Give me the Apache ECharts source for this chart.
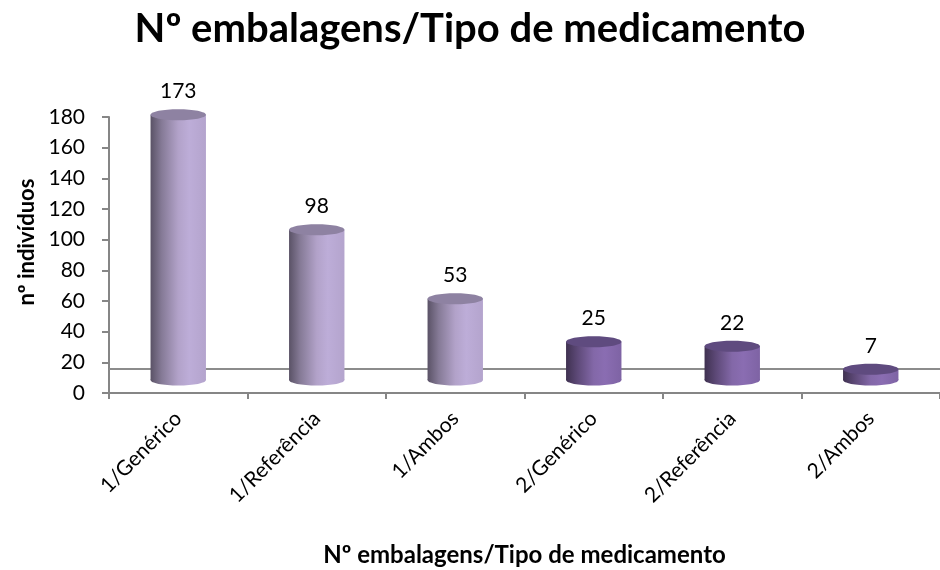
<!DOCTYPE html>
<html>
<head>
<meta charset="utf-8">
<script src="https://cdn.jsdelivr.net/npm/echarts@6/dist/echarts.min.js"></script>
<style>
  html, body { margin: 0; padding: 0; background: #fff; }
  #chart { width: 940px; height: 570px; }
</style>
</head>
<body>
<div id="chart"></div>
<script>
// Dados do gráfico
const categorias = ['1/Genérico', '1/Referência', '1/Ambos', '2/Genérico', '2/Referência', '2/Ambos'];
const valores = [173, 98, 53, 25, 22, 7];
const grupo = [1, 1, 1, 2, 2, 2];

const fonte = 'Lato, "Open Sans", sans-serif';

// Cores dos cilindros por grupo
const cores = {
  1: { corpo: ['#5a5266', '#857a96', '#b2a2c9', '#bdadd8', '#b4a4cd'], topo: '#8e82a2' },
  2: { corpo: ['#3f3150', '#5c4876', '#8368a8', '#8a6db2', '#7e63a4'], topo: '#5f4b7f' }
};

function gradiente(c) {
  return new echarts.graphic.LinearGradient(0, 0, 1, 0, [
    { offset: 0, color: c[0] },
    { offset: 0.2, color: c[1] },
    { offset: 0.5, color: c[2] },
    { offset: 0.7, color: c[3] },
    { offset: 1, color: c[4] }
  ]);
}

const elevacao = 13; // deslocamento da base (efeito 3D)
const piso = 24;     // linha de fundo do piso

function desenharCilindro(params, api) {
  const idx = api.value(0);
  const base = api.coord([idx, 0]);
  const topo = api.coord([idx, api.value(1)]);
  const largura = api.size([1, 0])[0] * 0.4;
  const rx = largura / 2;
  const ry = 5.5;
  const cx = base[0];
  const yb = base[1] - elevacao;
  const yt = topo[1] - elevacao;
  const c = cores[grupo[params.dataIndex]];
  const filhos = [];

  // linha do fundo do piso, atrás dos cilindros
  if (params.dataIndex === 0) {
    const cs = params.coordSys;
    filhos.push({
      type: 'line',
      shape: { x1: cs.x, y1: base[1] - piso, x2: cs.x + cs.width, y2: base[1] - piso },
      style: { stroke: '#8c8c8c', lineWidth: 2 }
    });
  }

  filhos.push({
    type: 'ellipse',
    shape: { cx: cx, cy: yb, rx: rx, ry: ry },
    style: { fill: gradiente(c.corpo) }
  });
  filhos.push({
    type: 'rect',
    shape: { x: cx - rx, y: yt, width: largura, height: yb - yt },
    style: { fill: gradiente(c.corpo) }
  });
  filhos.push({
    type: 'ellipse',
    shape: { cx: cx, cy: yt, rx: rx, ry: ry },
    style: { fill: c.topo }
  });
  filhos.push({
    type: 'text',
    style: {
      text: String(api.value(1)),
      x: cx,
      y: yt - ry - 7,
      align: 'center',
      verticalAlign: 'bottom',
      font: '21px ' + fonte,
      fill: '#000'
    }
  });

  return { type: 'group', children: filhos };
}

const chart = echarts.init(document.getElementById('chart'), null, { renderer: 'canvas' });

chart.setOption({
  animation: false,
  backgroundColor: '#fff',
  title: {
    text: 'Nº embalagens/Tipo de medicamento',
    left: 'center',
    top: 4,
    textStyle: { fontFamily: fonte, fontSize: 40, fontWeight: 'bold', color: '#000' }
  },
  grid: { left: 109, right: -10, top: 117, bottom: 177 },
  xAxis: {
    type: 'category',
    data: categorias,
    name: 'Nº embalagens/Tipo de medicamento',
    nameLocation: 'middle',
    nameGap: 150,
    nameTextStyle: { fontFamily: fonte, fontSize: 24, fontWeight: 'bold', color: '#000' },
    axisLine: { lineStyle: { color: '#868686', width: 2 } },
    axisTick: { show: true, length: 6, lineStyle: { color: '#868686', width: 2 } },
    axisLabel: { rotate: 45, margin: 22, fontFamily: fonte, fontSize: 21, color: '#000' }
  },
  yAxis: {
    type: 'value',
    min: 0,
    max: 180,
    interval: 20,
    name: 'nº indivíduos',
    nameLocation: 'middle',
    nameGap: 69,
    nameTextStyle: { fontFamily: fonte, fontSize: 22, fontWeight: 'bold', color: '#000', padding: [0, 0, 0, 26] },
    axisLine: { show: true, lineStyle: { color: '#868686', width: 2 } },
    axisTick: { show: true, length: 7, lineStyle: { color: '#868686', width: 2 } },
    axisLabel: { margin: 24, fontFamily: fonte, fontSize: 21, color: '#000' },
    splitLine: { show: false }
  },
  series: [{
    type: 'custom',
    renderItem: desenharCilindro,
    encode: { x: 0, y: 1 },
    data: valores.map(function(v, i) { return [i, v]; })
  }]
});
</script>
</body>
</html>
